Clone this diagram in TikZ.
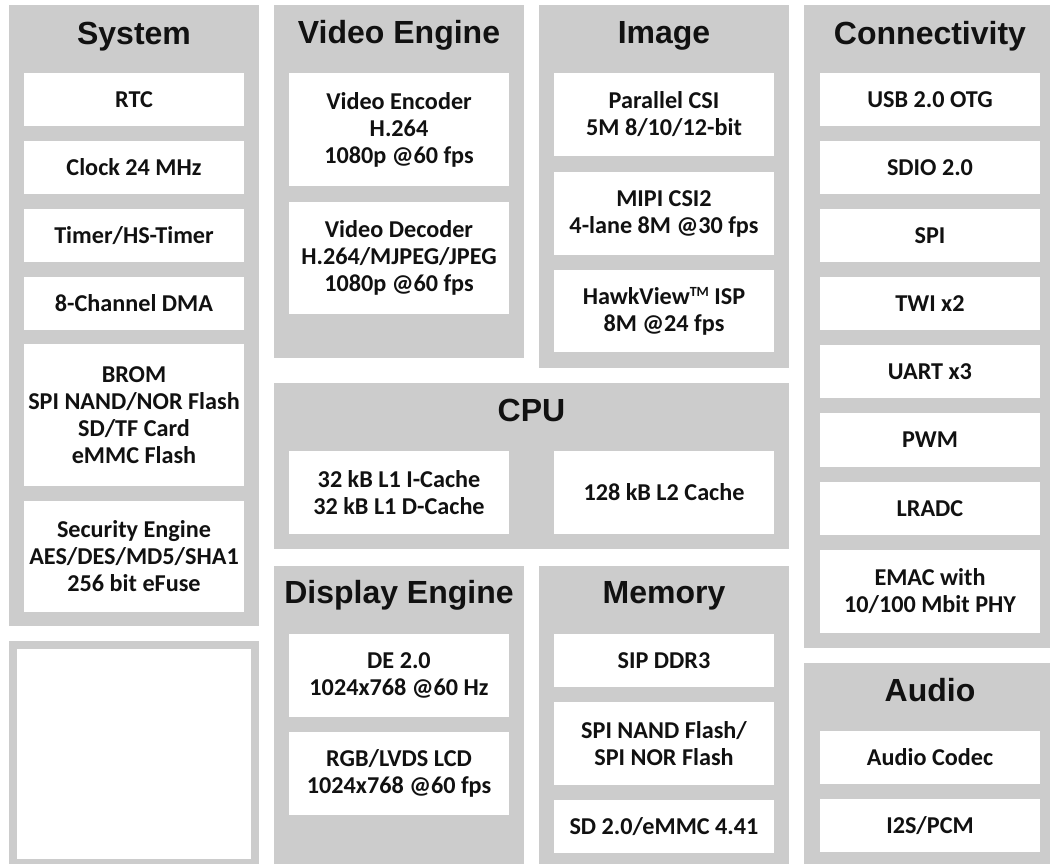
\documentclass[tikz,border=0pt]{standalone}
\usepackage{fontspec}
\setmainfont{Carlito}
\newfontfamily\titlefont{Liberation Sans}
\newfontfamily\bodyfont{Carlito}
\definecolor{panelgray}{HTML}{CCCCCC}
\definecolor{inkblack}{HTML}{111111}
\newcommand{\tmmark}{\raisebox{8pt}{\fontsize{14}{14}\selectfont TM}}
\begin{document}
\begin{tikzpicture}[x=1pt,y=-1pt,
  panel/.style={fill=panelgray, draw=none, inner sep=0pt, outer sep=0pt},
  innerbox/.style={fill=white, draw=none, inner sep=0pt, outer sep=0pt},
  box/.style={fill=white, draw=none, inner sep=0pt, outer sep=0pt, minimum width=220pt,
    align=center, text=inkblack, font=\bodyfont\bfseries\fontsize{24.2}{27}\selectfont},
  ptitle/.style={anchor=base, inner sep=0pt, text=inkblack, font=\titlefont\bfseries\fontsize{32}{36}\selectfont}]
\useasboundingbox (0,0) rectangle (1050,864);
\fill[white] (0,0) rectangle (1050,864);

% System
\node[panel, minimum width=250pt, minimum height=621pt] (sys) at (134,315.5) {};
\node[ptitle] (systitle) at (134,45) {System};
\node[box, minimum height=53pt] (rtc) at (134,99.5) {RTC};
\node[box, minimum height=53pt] (clk) at (134,167.5) {Clock 24 MHz};
\node[box, minimum height=53pt] (tmr) at (134,235.5) {Timer/HS-Timer};
\node[box, minimum height=53pt] (dma) at (134,303.5) {8-Channel DMA};
\node[box, minimum height=142pt] (brom) at (134,415) {BROM\\SPI NAND/NOR Flash\\SD/TF Card\\eMMC Flash};
\node[box, minimum height=111pt] (sec) at (134,556.5) {Security Engine\\AES/DES/MD5/SHA1\\256 bit eFuse};

% Lower-left empty panel
\node[panel, minimum width=250pt, minimum height=223pt] (ll) at (134,752.5) {};
\node[innerbox, minimum width=234pt, minimum height=210pt] (llin) at (134,754) {};

% Video Engine
\node[panel, minimum width=250pt, minimum height=353pt] (vid) at (399,181.5) {};
\node[ptitle] (vidtitle) at (399,44) {Video Engine};
\node[box, minimum height=113pt] (enc) at (399,129.5) {Video Encoder\\H.264\\1080p @60 fps};
\node[box, minimum height=112pt] (dec) at (399,258) {Video Decoder\\H.264/MJPEG/JPEG\\1080p @60 fps};

% Image
\node[panel, minimum width=250pt, minimum height=363pt] (img) at (664,186.5) {};
\node[ptitle] (imgtitle) at (664,44) {Image};
\node[box, minimum height=83pt] (pcsi) at (664,114.5) {Parallel CSI\\5M 8/10/12-bit};
\node[box, minimum height=83pt] (mipi) at (664,213.5) {MIPI CSI2\\4-lane 8M @30 fps};
\node[box, minimum height=82pt] (isp) at (664,311) {HawkView\tmmark{} ISP\\8M @24 fps};

% CPU
\node[panel, minimum width=515pt, minimum height=166pt] (cpu) at (531.5,466) {};
\node[ptitle] (cputitle) at (531.5,421) {CPU};
\node[box, minimum height=83pt] (lone) at (399,492.5) {32 kB L1 I-Cache\\32 kB L1 D-Cache};
\node[box, minimum height=83pt] (ltwo) at (664,492.5) {128 kB L2 Cache};

% Display Engine
\node[panel, minimum width=250pt, minimum height=298pt] (disp) at (399,715) {};
\node[ptitle] (disptitle) at (399,603) {Display Engine};
\node[box, minimum height=83pt] (de) at (399,675.5) {DE 2.0\\1024x768 @60 Hz};
\node[box, minimum height=83pt] (lcd) at (399,773.5) {RGB/LVDS LCD\\1024x768 @60 fps};

% Memory
\node[panel, minimum width=250pt, minimum height=298pt] (mem) at (664,715) {};
\node[ptitle] (memtitle) at (664,603) {Memory};
\node[box, minimum height=53pt] (ddr) at (664,660.5) {SIP DDR3};
\node[box, minimum height=83pt] (nand) at (664,743.5) {SPI NAND Flash/\\SPI NOR Flash};
\node[box, minimum height=53pt] (sd) at (664,826.5) {SD 2.0/eMMC 4.41};

% Connectivity
\node[panel, minimum width=246pt, minimum height=643pt] (con) at (927,326.5) {};
\node[ptitle] (contitle) at (930,45) {Connectivity};
\node[box, minimum height=53pt] (usb) at (930,99.5) {USB 2.0 OTG};
\node[box, minimum height=53pt] (sdio) at (930,167.5) {SDIO 2.0};
\node[box, minimum height=53pt] (spi) at (930,235.5) {SPI};
\node[box, minimum height=53pt] (twi) at (930,303.5) {TWI x2};
\node[box, minimum height=53pt] (uart) at (930,371.5) {UART x3};
\node[box, minimum height=54pt] (pwm) at (930,440) {PWM};
\node[box, minimum height=53pt] (lradc) at (930,508.5) {LRADC};
\node[box, minimum height=83pt] (emac) at (930,591.5) {EMAC with\\10/100 Mbit PHY};

% Audio
\node[panel, minimum width=246pt, minimum height=201pt] (aud) at (927,763.5) {};
\node[ptitle] (audtitle) at (930,701) {Audio};
\node[box, minimum height=53pt] (codec) at (930,757.5) {Audio Codec};
\node[box, minimum height=53pt] (iis) at (930,825.5) {I2S/PCM};
\end{tikzpicture}
\end{document}
